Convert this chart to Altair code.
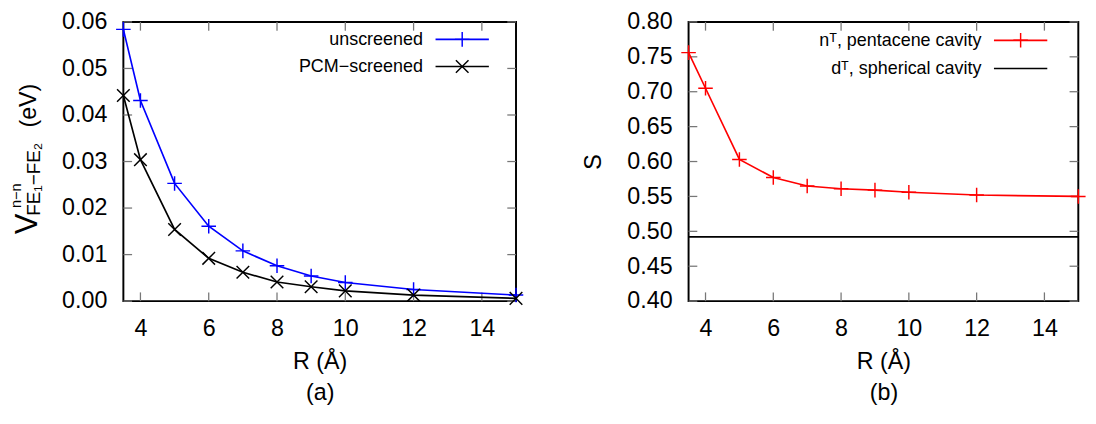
import altair as alt
import pandas as pd

# ---------------- data ----------------
R = [3.5, 4, 5, 6, 7, 8, 9, 10, 12, 15]
V_unscreened = [0.0584, 0.0431, 0.0253, 0.0161, 0.0108, 0.0076, 0.0054, 0.0040, 0.0025, 0.0013]
V_pcm = [0.0442, 0.0304, 0.0154, 0.0092, 0.0062, 0.0041, 0.0031, 0.0022, 0.0013, 0.0006]
S_pentacene = [0.756, 0.705, 0.603, 0.577, 0.565, 0.561, 0.559, 0.556, 0.552, 0.550]
S_spherical = [0.492]

series_a = ["unscreened", "PCM\u2212screened"]
series_b = ["n\u1d40, pentacene cavity", "d\u1d40, spherical cavity"]

x_ticks = [4, 6, 8, 10, 12, 14]
ya_ticks = [0.00, 0.01, 0.02, 0.03, 0.04, 0.05, 0.06]
yb_ticks = [0.40, 0.45, 0.50, 0.55, 0.60, 0.65, 0.70, 0.75, 0.80]

# ---------------- style ----------------
FONT = "Liberation Sans"
W_A, W_B, H = 405, 402, 288
TICK = "#777777"
BLUE, BLACK, RED = "#0000ff", "#000000", "#ff0000"
PLUS = "M-1,0L1,0M0,-1L0,1"
CROSS = "M-1,-1L1,1M-1,1L1,-1"
FS = 24
LEG_FS = 18.5

df_a = pd.DataFrame({"R": R, "unscreened": V_unscreened, "pcm": V_pcm})
df_b = pd.DataFrame({"R": R, "s": S_pentacene})

xscale = alt.Scale(domain=[3.5, 15], nice=False, zero=False)
ya_scale = alt.Scale(domain=[0, 0.06], nice=False, zero=False)
yb_scale = alt.Scale(domain=[0.40, 0.80], nice=False, zero=False)


def x_axis(caption):
    return alt.Axis(values=x_ticks, ticks=False, domain=False, grid=False,
                    labelFontSize=FS, labelPadding=16, labelFont=FONT,
                    title=["R (\u00c5)", caption], titleFontSize=FS,
                    titleFontWeight="normal", titleFont=FONT, titlePadding=10,
                    titleLineHeight=33)


xa_axis = x_axis("(a)")
xb_axis = x_axis("(b)")
ya_axis = alt.Axis(values=ya_ticks, format=".2f", ticks=False, domain=False, grid=False,
                   labelFontSize=FS, labelPadding=17, labelFont=FONT, title=None)
yb_axis = alt.Axis(values=yb_ticks, format=".2f", ticks=False, domain=False, grid=False,
                   labelFontSize=FS, labelPadding=17, labelFont=FONT,
                   title="S", titleFontSize=FS, titleFontWeight="normal",
                   titleFont=FONT, titlePadding=22)


def tick_layers(width, xaxis, yscale, yaxis, yticks):
    xt = pd.DataFrame({"R": x_ticks})
    yt = pd.DataFrame({"v": yticks})
    base_x = alt.Chart(xt).mark_rule(color=TICK, strokeWidth=1.3)
    base_y = alt.Chart(yt).mark_rule(color=TICK, strokeWidth=1.3)
    xx = alt.X("R:Q", scale=xscale, axis=xaxis)
    yy = alt.Y("v:Q", scale=yscale, axis=yaxis)
    return [
        base_x.encode(x=xx, y=alt.value(H - 9), y2=alt.value(H)),
        base_x.encode(x=xx, y=alt.value(0), y2=alt.value(9)),
        base_y.encode(y=yy, x=alt.value(0), x2=alt.value(9)),
        base_y.encode(y=yy, x=alt.value(width - 9), x2=alt.value(width)),
    ]


def label(text, x, y, size, align="right", angle=0, baseline="middle"):
    return alt.Chart(pd.DataFrame({"t": [text]})).mark_text(
        align=align, baseline=baseline, fontSize=size, font=FONT, color="black", angle=angle
    ).encode(text="t:N", x=alt.value(x), y=alt.value(y))


def sample(x1, x2, y, color):
    return alt.Chart(pd.DataFrame({"t": [0]})).mark_rule(color=color, strokeWidth=1.7).encode(
        x=alt.value(x1), x2=alt.value(x2), y=alt.value(y))


def sample_pt(x, y, color, shape, size):
    return alt.Chart(pd.DataFrame({"t": [0]})).mark_point(
        shape=shape, size=size, filled=False, stroke=color, strokeWidth=1.5, opacity=1
    ).encode(x=alt.value(x), y=alt.value(y))


# ---------------- panel (a) ----------------
xa = alt.X("R:Q", scale=xscale, axis=xa_axis)
line_u = alt.Chart(df_a).mark_line(color=BLUE, strokeWidth=1.7).encode(
    x=xa, y=alt.Y("unscreened:Q", scale=ya_scale, axis=ya_axis))
pts_u = alt.Chart(df_a).mark_point(shape=PLUS, size=225, filled=False, stroke=BLUE,
                                   strokeWidth=1.5, opacity=1).encode(
    x=xa, y=alt.Y("unscreened:Q", scale=ya_scale, axis=ya_axis))
line_p = alt.Chart(df_a).mark_line(color=BLACK, strokeWidth=1.7).encode(
    x=xa, y=alt.Y("pcm:Q", scale=ya_scale, axis=ya_axis))
pts_p = alt.Chart(df_a).mark_point(shape=CROSS, size=169, filled=False, stroke=BLACK,
                                   strokeWidth=1.5, opacity=1).encode(
    x=xa, y=alt.Y("pcm:Q", scale=ya_scale, axis=ya_axis))

title_a = [
    label("V", -89, 219, 32, align="left", angle=270, baseline="alphabetic"),
    label("n\u2212n", -106, 192, 15, align="left", angle=270, baseline="alphabetic"),
    label("FE\u2081\u2212FE\u2082", -86, 200, 19.5, align="left", angle=270, baseline="alphabetic"),
    label("(eV)", -90, 109, 24, align="left", angle=270, baseline="alphabetic"),
]
legend_a = [
    label(series_a[0], 309, 18, LEG_FS),
    sample(322, 377, 18, BLUE),
    sample_pt(349.5, 18, BLUE, PLUS, 225),
    label(series_a[1], 309, 46, LEG_FS),
    sample(322, 377, 46, BLACK),
    sample_pt(349.5, 46, BLACK, CROSS, 169),
]

panel_a = alt.layer(
    *tick_layers(W_A, xa_axis, ya_scale, ya_axis, ya_ticks),
    line_u, line_p, pts_u, pts_p, *title_a, *legend_a
).properties(width=W_A, height=H)

# ---------------- panel (b) ----------------
xb = alt.X("R:Q", scale=xscale, axis=xb_axis)
line_s = alt.Chart(df_b).mark_line(color=RED, strokeWidth=1.7).encode(
    x=xb, y=alt.Y("s:Q", scale=yb_scale, axis=yb_axis))
pts_s = alt.Chart(df_b).mark_point(shape=PLUS, size=225, filled=False, stroke=RED,
                                   strokeWidth=1.5, opacity=1).encode(
    x=xb, y=alt.Y("s:Q", scale=yb_scale, axis=yb_axis))
sph = alt.Chart(pd.DataFrame({"s": S_spherical})).mark_rule(color=BLACK, strokeWidth=1.7).encode(
    y=alt.Y("s:Q", scale=yb_scale, axis=yb_axis))

legend_b = [
    label(series_b[0], 302, 19, LEG_FS),
    sample(315, 370, 19, RED),
    sample_pt(342.5, 19, RED, PLUS, 225),
    label(series_b[1], 302, 48, LEG_FS),
    sample(315, 370, 48, BLACK),
]

panel_b = alt.layer(
    *tick_layers(W_B, xb_axis, yb_scale, yb_axis, yb_ticks),
    sph, line_s, pts_s, *legend_b
).properties(width=W_B, height=H)

chart = alt.hconcat(panel_a, panel_b, spacing=55).properties(
    padding={"left": 0, "top": -5, "right": -2, "bottom": 0}
).configure_view(stroke="black", strokeWidth=2).configure_axis(
    labelColor="black", titleColor="black"
)

chart.save("out.html", embed_options={"renderer": "svg", "actions": False})
